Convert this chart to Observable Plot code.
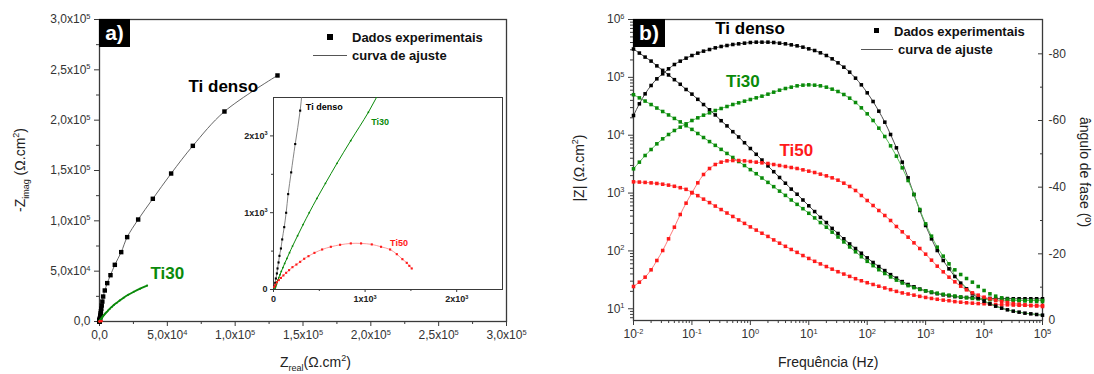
<!DOCTYPE html>
<html lang="pt">
<head>
<meta charset="utf-8">
<title>Espectros de impedância – Ti denso, Ti30, Ti50</title>
<script src="https://cdn.jsdelivr.net/npm/d3@7"></script>
<script src="https://cdn.jsdelivr.net/npm/@observablehq/plot@0.6"></script>
<style>
  html, body { margin: 0; padding: 0; background: #fff; }
  #figure { position: relative; width: 1094px; height: 374px; overflow: hidden;
    font-family: "Liberation Sans", Arial, sans-serif; color: #1a1a1a; }
  #figure svg { position: absolute; left: 0; top: 0; }
  .note { position: absolute; white-space: nowrap; line-height: 1; }
  .panel-tag { position: absolute; background: #000; color: #fff; font-weight: bold;
    font-size: 21px; text-align: center; line-height: 28px; height: 28px; }
  .legend-text { font-weight: bold; font-size: 13px; color: #111; }
  .swatch { position: absolute; background: #000; }
  .fit-swatch { position: absolute; height: 1px; background: #555; }
  .axis-title { font-size: 14px; color: #222; }
  .axis-title sub { font-size: 9px; vertical-align: -4px; }
  .axis-title sup { font-size: 9px; vertical-align: 6px; }
  .rot-left { transform: translate(-50%, -50%) rotate(-90deg); }
  .rot-right { transform: translate(-50%, -50%) rotate(90deg); }
  svg.inset g[aria-label$="tick label"] text { font-weight: bold; }
</style>
</head>
<body>
<div id="figure"></div>
<script>
// ---------------------------------------------------------------------------
// Bode data: frequency grid (Hz), |Z| (Ω.cm²) and phase angle (°)
// ---------------------------------------------------------------------------
const freq = [
  0.01, 0.0126, 0.0158, 0.02, 0.0251, 0.0316, 0.0398, 0.0501, 0.0631, 0.0794,
  0.1, 0.126, 0.158, 0.2, 0.251, 0.316, 0.398, 0.501, 0.631, 0.794,
  1, 1.26, 1.58, 2, 2.51, 3.16, 3.98, 5.01, 6.31, 7.94,
  10, 12.6, 15.8, 20, 25.1, 31.6, 39.8, 50.1, 63.1, 79.4,
  100, 126, 158, 200, 251, 316, 398, 501, 631, 794,
  1000, 1260, 1580, 2000, 2510, 3160, 3980, 5010, 6310, 7940,
  10000, 12600, 15800, 20000, 25100, 31600, 39800, 50100, 63100, 79400,
  100000
];

const tiDensoModulus = [
  309000, 263000, 224000, 191000, 158000, 132000, 110000, 91200, 75900, 61700,
  51300, 41700, 33900, 27500, 22400, 17800, 14500, 11500, 9330, 7410,
  5890, 4680, 3720, 2950, 2340, 1860, 1480, 1170, 955, 759,
  603, 479, 380, 309, 245, 200, 162, 132, 110, 91.2,
  75.9, 63.1, 53.7, 45.7, 38.9, 33.9, 29.5, 26.3, 24.0, 21.9,
  20.4, 19.1, 18.2, 17.4, 16.8, 16.2, 15.8, 15.7, 15.5, 15.3,
  15.1, 15.1, 15.0, 15.0, 15.0, 14.9, 14.9, 14.9, 14.9, 14.9,
  14.9
];
const tiDensoPhase = [
  -61.5, -65, -68, -70.5, -72.5, -74, -75.5, -76.8, -77.8, -78.7,
  -79.5, -80.2, -80.8, -81.3, -81.8, -82.2, -82.5, -82.8, -83.0, -83.2,
  -83.4, -83.5, -83.5, -83.5, -83.4, -83.2, -83.0, -82.7, -82.4, -82.0,
  -81.5, -81.0, -80.3, -79.5, -78.5, -77.3, -76.0, -74.5, -72.7, -70.7,
  -68.3, -65.7, -62.8, -59.5, -55.8, -51.8, -47.5, -42.8, -37.8, -33,
  -28.5, -24.5, -21, -18, -15.5, -13.2, -11.2, -9.5, -8, -6.8,
  -5.8, -5, -4.3, -3.7, -3.2, -2.8, -2.5, -2.2, -2.0, -1.8,
  -1.6
];

const ti30Modulus = [
  50100, 44200, 38900, 33900, 29500, 25700, 22400, 19500, 17000, 14600,
  12600, 10700, 9120, 7760, 6680, 5690, 4840, 4120, 3510, 2990,
  2540, 2160, 1820, 1530, 1290, 1080, 912, 759, 638, 537,
  447, 372, 309, 257, 211, 174, 143, 117, 96.6, 79.4,
  66.1, 55.6, 47.3, 40.7, 35.5, 31.3, 27.9, 25.1, 23.2, 21.6,
  20.4, 19.5, 18.6, 17.8, 17.2, 16.6, 16.0, 15.5, 15.1, 14.8,
  14.5, 14.3, 14.1, 14.1, 14.0, 14.0, 13.9, 13.9, 13.9, 13.9,
  13.9
];
const ti30Phase = [
  -45.5, -47.5, -49.5, -51.3, -53, -54.5, -55.8, -57, -58, -59,
  -60, -60.8, -61.6, -62.3, -63, -63.6, -64.2, -64.8, -65.3, -65.8,
  -66.3, -66.8, -67.3, -67.9, -68.5, -69.1, -69.6, -70.0, -70.4, -70.6,
  -70.7, -70.6, -70.4, -70.0, -69.4, -68.7, -67.8, -66.7, -65.4, -63.8,
  -62, -60, -57.7, -55.2, -52.4, -49.3, -45.8, -42, -37.8, -33.3,
  -29, -25.3, -22, -19.3, -17, -15.2, -13.8, -12.6, -11.5, -10.2,
  -9, -8, -7.3, -6.8, -6.4, -6.2, -6.0, -5.9, -5.8, -5.7,
  -5.7
];
// fitted Ti30 phase from 3.16 kHz upwards (below that it follows the data)
const ti30PhaseFitHigh = [
  -13.5, -11.5, -9.8, -8.3, -7.0, -5.9, -5.0, -4.3, -3.7, -3.2, -2.8, -2.5, -2.2, -2.0, -1.8, -1.6
];

const ti50Modulus = [
  1563, 1549, 1528, 1500, 1466, 1422, 1371, 1309, 1239, 1159,
  1023, 902, 785, 684, 596, 519, 452, 394, 343, 299,
  260, 229, 202, 178, 155, 136, 120, 106, 94.4, 83.2,
  74.1, 66.1, 59.6, 53.7, 48.4, 43.7, 39.8, 36.3, 33.1, 30.5,
  28.2, 26.3, 24.5, 22.9, 21.4, 20.0, 18.8, 18.0, 17.2, 16.4,
  15.7, 15.1, 14.6, 14.1, 13.8, 13.3, 13.0, 12.7, 12.5, 12.3,
  12.2, 12.0, 11.9, 11.7, 11.7, 11.6, 11.5, 11.5, 11.4, 11.4,
  11.4
];
const ti50Phase = [
  -10.2, -11.5, -13, -15.2, -18, -21, -24.5, -28, -31.8, -35.2,
  -38.3, -41.3, -43.8, -45.6, -46.8, -47.5, -47.9, -48, -48, -47.9,
  -47.7, -47.5, -47.3, -47.1, -46.8, -46.5, -46.2, -45.9, -45.6, -45.2,
  -44.8, -44.4, -43.9, -43.4, -42.8, -42.1, -41.2, -40.2, -39, -37.5,
  -36, -34.5, -33, -31.5, -30, -28.2, -26.6, -25, -23.3, -21.6,
  -19.9, -18.1, -16.3, -14.6, -13, -11.6, -10.3, -9.2, -8.3, -7.6,
  -7, -6.5, -6.1, -5.7, -5.4, -5.1, -4.9, -4.7, -4.5, -4.35,
  -4.2
];

// ---------------------------------------------------------------------------
// Nyquist data: Z real and -Z imag (Ω.cm²), low to high frequency
// ---------------------------------------------------------------------------
const tiDensoZreal = [131200, 92100, 68800, 52800, 39300, 28500, 20400, 16000, 11300, 8100,
  5700, 3900, 2700, 2100, 1650, 1300, 1050, 850, 700, 580, 470, 390, 330,
  291, 237, 193, 160, 138, 117, 95, 81, 65, 55, 44, 37, 26, 19, 14];
const tiDensoZimag = [244400, 208600, 174500, 147000, 121900, 101300, 83800, 68900, 56300, 46000,
  38100, 30800, 24800, 19800, 15900, 12700, 10200, 8200, 6600, 5300, 4250, 3400, 2800,
  2329, 1894, 1525, 1242, 999, 812, 652, 534, 438, 352, 274, 209, 143, 87, 43];

const ti30Zreal = [35100, 29900, 25300, 21200, 17800, 14900, 12600, 10600, 9000, 7500,
  6300, 5200, 4300, 3600, 3000, 2530, 2100, 1750, 1470, 1230,
  1036, 843, 693, 567, 474, 390, 323, 263, 208, 175,
  147, 122, 103, 85, 71, 58, 48, 40, 33, 27, 22, 18, 15];
const ti30Zimag = [35700, 32600, 29600, 26500, 23600, 20900, 18500, 16400, 14400, 12500,
  10900, 9300, 8000, 6900, 5950, 5100, 4360, 3730, 3190, 2730,
  2308, 1938, 1643, 1382, 1186, 1000, 845, 700, 565, 480,
  405, 340, 285, 235, 192, 155, 122, 94, 70, 50, 33, 18, 6];

const ti50Zreal = [1509, 1483, 1455, 1407, 1346, 1273, 1174, 1073, 956, 844,
  727, 626, 531, 447, 382, 335, 291, 250, 207, 170, 138, 108, 81, 58, 37, 20, 8];
const ti50Zimag = [274, 308, 347, 395, 460, 521, 556, 587, 600, 600,
  582, 556, 521, 477, 434, 400, 360, 325, 291, 252, 217, 183, 151, 122, 95, 60, 34];

// ---------------------------------------------------------------------------
// Tick values and their labels ("^" marks the exponent)
// ---------------------------------------------------------------------------
const nyquistTicks = [0, 50000, 100000, 150000, 200000, 250000, 300000];
const nyquistTickLabels = ["0,0", "5,0x10^4", "1,0x10^5", "1,5x10^5", "2,0x10^5", "2,5x10^5", "3,0x10^5"];
const nyquistMinorTicks = [25000, 75000, 125000, 175000, 225000, 275000];
const insetTicks = [0, 1000, 2000];
const insetTickLabels = ["0", "1x10^3", "2x10^3"];
const insetMinorTicks = [500, 1500];
const freqTicks = [0.01, 0.1, 1, 10, 100, 1000, 10000, 100000];
const freqTickLabels = ["10^-2", "10^-1", "10^0", "10^1", "10^2", "10^3", "10^4", "10^5"];
const modulusTicks = [10, 100, 1000, 10000, 100000, 1000000];
const modulusTickLabels = ["10^1", "10^2", "10^3", "10^4", "10^5", "10^6"];
const phaseTicks = [0, -20, -40, -60, -80];
const phaseTickLabels = ["0", "-20", "-40", "-60", "-80"];
const phaseMinorTicks = [-10, -30, -50, -70];

// ---------------------------------------------------------------------------
const W = 1094, H = 374;
const BLACK = "#000000", GREEN = "#0a8a0a", RED = "#ff1a1a";
const AXIS = "#3a3a3a";
const baseStyle = {
  background: "transparent",
  fontFamily: '"Liberation Sans", Arial, sans-serif',
  fontSize: "12px",
  color: AXIS
};

const labelFor = (ticks, labels) => d => {
  const i = ticks.indexOf(d);
  return i < 0 ? "" : labels[i];
};
const logMinor = (lo, hi, min, max) => {
  const out = [];
  for (let e = lo; e < hi; e++) for (let m = 2; m <= 9; m++) out.push(m * Math.pow(10, e));
  return out.filter(v => v >= min && v <= max);
};
const toRows = (zr, zi) => zr.map((x, i) => ({zr: x, zi: zi[i]}));

// turn "a^b" tick labels into a base with a raised, smaller exponent
function raiseExponents(svg) {
  svg.querySelectorAll("text").forEach(t => {
    const s = t.textContent;
    const i = s.indexOf("^");
    if (i < 0) return;
    t.textContent = s.slice(0, i);
    const sup = document.createElementNS("http://www.w3.org/2000/svg", "tspan");
    sup.setAttribute("dy", "-0.6em");
    sup.setAttribute("font-size", "0.62em");
    sup.textContent = s.slice(i + 1);
    t.appendChild(sup);
  });
  return svg;
}

const tiDensoNyq = toRows(tiDensoZreal, tiDensoZimag);
const ti30Nyq = toRows(ti30Zreal, ti30Zimag);
const ti50Nyq = toRows(ti50Zreal, ti50Zimag);

const bodeSeries = [
  {name: "Ti denso", color: BLACK, fit: "#4d4d4d", modulus: tiDensoModulus, phase: tiDensoPhase,
   phaseFit: tiDensoPhase},
  {name: "Ti30", color: GREEN, fit: "#5cbf5c", modulus: ti30Modulus, phase: ti30Phase,
   phaseFit: ti30Phase.map((v, i) => (i >= 55 ? ti30PhaseFitHigh[i - 55] : v))},
  {name: "Ti50", color: RED, fit: "#ff7a7a", modulus: ti50Modulus, phase: ti50Phase,
   phaseFit: ti50Phase}
].map(s => ({...s, rows: freq.map((f, i) => ({f, modulus: s.modulus[i], phase: s.phase[i], phaseFit: s.phaseFit[i]}))}));

const fig = document.getElementById("figure");

// ---------------------------------------------------------------- panel a)
const nyquist = Plot.plot({
  width: W, height: H,
  marginLeft: 99, marginRight: 588, marginTop: 19, marginBottom: 53,
  style: baseStyle,
  x: {domain: [0, 300000], label: null},
  y: {domain: [0, 300000], label: null},
  marks: [
    Plot.frame({stroke: AXIS, strokeWidth: 1.3}),
    Plot.axisX({ticks: nyquistTicks, tickFormat: labelFor(nyquistTicks, nyquistTickLabels), tickSize: 5, tickPadding: 4, label: null, stroke: AXIS, fill: "#333"}),
    Plot.axisX({ticks: nyquistMinorTicks, tickFormat: () => "", tickSize: 3, label: null, stroke: AXIS}),
    Plot.axisY({ticks: nyquistTicks, tickFormat: labelFor(nyquistTicks, nyquistTickLabels), tickSize: 5, tickPadding: 4, label: null, stroke: AXIS, fill: "#333"}),
    Plot.axisY({ticks: nyquistMinorTicks, tickFormat: () => "", tickSize: 3, label: null, stroke: AXIS}),
    Plot.line(tiDensoNyq, {x: "zr", y: "zi", stroke: "#555", strokeWidth: 0.9, curve: "catmull-rom"}),
    Plot.dot(tiDensoNyq, {x: "zr", y: "zi", symbol: "square", r: 2.5, fill: BLACK}),
    Plot.line(ti30Nyq, {x: "zr", y: "zi", stroke: GREEN, strokeWidth: 1.8, curve: "catmull-rom"}),
    Plot.dot(ti30Nyq, {x: "zr", y: "zi", r: 1, fill: GREEN}),
    Plot.dot(ti50Nyq, {x: "zr", y: "zi", r: 1, fill: RED}),
    Plot.text(["Ti denso"], {x: () => 65600, y: () => 233400, text: d => d, textAnchor: "start", fontSize: 17, fontWeight: "bold", fill: BLACK}),
    Plot.text(["Ti30"], {x: () => 37600, y: () => 47700, text: d => d, textAnchor: "start", fontSize: 17, fontWeight: "bold", fill: GREEN})
  ]
});
fig.appendChild(raiseExponents(nyquist));

// inset: zoom on the high-frequency region
const inset = Plot.plot({
  width: W, height: H,
  marginLeft: 273, marginRight: 592, marginTop: 97, marginBottom: 85,
  style: baseStyle,
  x: {domain: [0, 2500], label: null},
  y: {domain: [0, 2500], label: null},
  marks: [
    Plot.frame({fill: "white", stroke: AXIS, strokeWidth: 1}),
    Plot.axisX({ticks: insetTicks, tickFormat: labelFor(insetTicks, insetTickLabels), tickSize: 3, tickPadding: 3, fontSize: 9, fontWeight: "bold", label: null, stroke: AXIS, fill: "#222"}),
    Plot.axisX({ticks: insetMinorTicks, tickFormat: () => "", tickSize: 2, label: null, stroke: AXIS}),
    Plot.axisY({ticks: insetTicks, tickFormat: labelFor(insetTicks, insetTickLabels), tickSize: 3, tickPadding: 3, fontSize: 9, fontWeight: "bold", label: null, stroke: AXIS, fill: "#222"}),
    Plot.axisY({ticks: insetMinorTicks, tickFormat: () => "", tickSize: 2, label: null, stroke: AXIS}),
    Plot.line(tiDensoNyq, {x: "zr", y: "zi", stroke: "#666", strokeWidth: 0.8, curve: "catmull-rom", clip: true}),
    Plot.dot(tiDensoNyq, {x: "zr", y: "zi", symbol: "square", r: 1.2, fill: BLACK, clip: true}),
    Plot.line(ti30Nyq, {x: "zr", y: "zi", stroke: GREEN, strokeWidth: 1, curve: "catmull-rom", clip: true}),
    Plot.dot(ti30Nyq, {x: "zr", y: "zi", r: 0.9, fill: GREEN, clip: true}),
    Plot.line(ti50Nyq, {x: "zr", y: "zi", stroke: "#ff8080", strokeWidth: 0.8, curve: "catmull-rom", clip: true}),
    Plot.dot(ti50Nyq, {x: "zr", y: "zi", symbol: "square", r: 1.2, fill: RED, clip: true}),
    Plot.text(["Ti denso"], {x: () => 353, y: () => 2381, text: d => d, textAnchor: "start", fontSize: 9, fontWeight: "bold", fill: BLACK}),
    Plot.text(["Ti30"], {x: () => 1066, y: () => 2181, text: d => d, textAnchor: "start", fontSize: 9, fontWeight: "bold", fill: GREEN}),
    Plot.text(["Ti50"], {x: () => 1273, y: () => 604, text: d => d, textAnchor: "start", fontSize: 9, fontWeight: "bold", fill: RED})
  ]
});
inset.classList.add("inset");
fig.appendChild(raiseExponents(inset));

// ---------------------------------------------------------------- panel b)
const bodeMargins = {marginLeft: 633, marginRight: 52, marginTop: 19, marginBottom: 54};
const freqDomain = [0.01, 100000];
const modulusDomain = [6.27, 1000000];

const modulusPlot = Plot.plot({
  width: W, height: H, ...bodeMargins,
  style: baseStyle,
  x: {type: "log", domain: freqDomain, label: null},
  y: {type: "log", domain: modulusDomain, label: null},
  marks: [
    Plot.frame({stroke: AXIS, strokeWidth: 1.3}),
    Plot.axisX({ticks: freqTicks, tickFormat: labelFor(freqTicks, freqTickLabels), tickSize: 5, tickPadding: 4, label: null, stroke: AXIS, fill: "#333"}),
    Plot.axisX({ticks: logMinor(-2, 5, 0.01, 100000), tickFormat: () => "", tickSize: 3, label: null, stroke: AXIS}),
    Plot.axisY({ticks: modulusTicks, tickFormat: labelFor(modulusTicks, modulusTickLabels), tickSize: 5, tickPadding: 4, label: null, stroke: AXIS, fill: "#333"}),
    Plot.axisY({ticks: logMinor(0, 6, modulusDomain[0], modulusDomain[1]), tickFormat: () => "", tickSize: 3, label: null, stroke: AXIS}),
    ...bodeSeries.map(s => Plot.line(s.rows, {x: "f", y: "modulus", stroke: s.fit, strokeWidth: 1, curve: "monotone-x"})),
    ...bodeSeries.map(s => Plot.dot(s.rows, {x: "f", y: "modulus", symbol: "square", r: 2, fill: s.color})),
    Plot.text(["Ti denso"], {x: () => 0.251, y: () => 684000, text: d => d, textAnchor: "start", fontSize: 17, fontWeight: "bold", fill: BLACK}),
    Plot.text(["Ti30"], {x: () => 0.384, y: () => 84500, text: d => d, textAnchor: "start", fontSize: 17, fontWeight: "bold", fill: GREEN}),
    Plot.text(["Ti50"], {x: () => 3.15, y: () => 5380, text: d => d, textAnchor: "start", fontSize: 17, fontWeight: "bold", fill: RED})
  ]
});
fig.appendChild(raiseExponents(modulusPlot));

const phasePlot = Plot.plot({
  width: W, height: H, ...bodeMargins,
  style: baseStyle,
  x: {type: "log", domain: freqDomain, axis: null},
  y: {domain: [0, -90.3], label: null},
  marks: [
    Plot.axisY({anchor: "right", ticks: phaseTicks, tickFormat: labelFor(phaseTicks, phaseTickLabels), tickSize: -5, tickPadding: 11, label: null, stroke: AXIS, fill: "#333"}),
    Plot.axisY({anchor: "right", ticks: phaseMinorTicks, tickFormat: () => "", tickSize: -3, label: null, stroke: AXIS}),
    ...bodeSeries.map(s => Plot.line(s.rows, {x: "f", y: "phaseFit", stroke: s.fit, strokeWidth: 1, curve: "monotone-x"})),
    ...bodeSeries.map(s => Plot.dot(s.rows, {x: "f", y: "phase", symbol: "square", r: 2, fill: s.color}))
  ]
});
fig.appendChild(phasePlot);

// ---------------------------------------------------------------- annotations
function note(html, cls, style) {
  const d = document.createElement("div");
  d.className = cls;
  d.innerHTML = html;
  Object.assign(d.style, style);
  fig.appendChild(d);
  return d;
}

// panel tags
note("a)", "panel-tag", {left: "99px", top: "19px", width: "31px"});
note("b)", "panel-tag", {left: "633px", top: "19px", width: "32px"});

// legends
note("", "swatch", {left: "327px", top: "34px", width: "6px", height: "6px"});
note("Dados experimentais", "note legend-text", {left: "352px", top: "31px"});
note("", "fit-swatch", {left: "313px", top: "55px", width: "34px"});
note("curva de ajuste", "note legend-text", {left: "352px", top: "49px"});

note("", "swatch", {left: "874px", top: "28px", width: "5px", height: "5px"});
note("Dados experimentais", "note legend-text", {left: "894px", top: "25px"});
note("", "fit-swatch", {left: "861px", top: "49px", width: "32px"});
note("curva de ajuste", "note legend-text", {left: "898px", top: "43px"});

// axis titles
note("-Z<sub>imag</sub> (Ω.cm<sup>2</sup>)", "note axis-title rot-left", {left: "21px", top: "170px"});
note("Z<sub>real</sub>(Ω.cm<sup>2</sup>)", "note axis-title", {left: "280px", top: "354px"});
note("|Z| (Ω.cm<sup>2</sup>)", "note axis-title rot-left", {left: "578px", top: "168px"});
note("Frequência (Hz)", "note axis-title", {left: "778px", top: "355px"});
note("ângulo de fase (º)", "note axis-title rot-right", {left: "1085px", top: "172px"});
</script>
</body>
</html>
